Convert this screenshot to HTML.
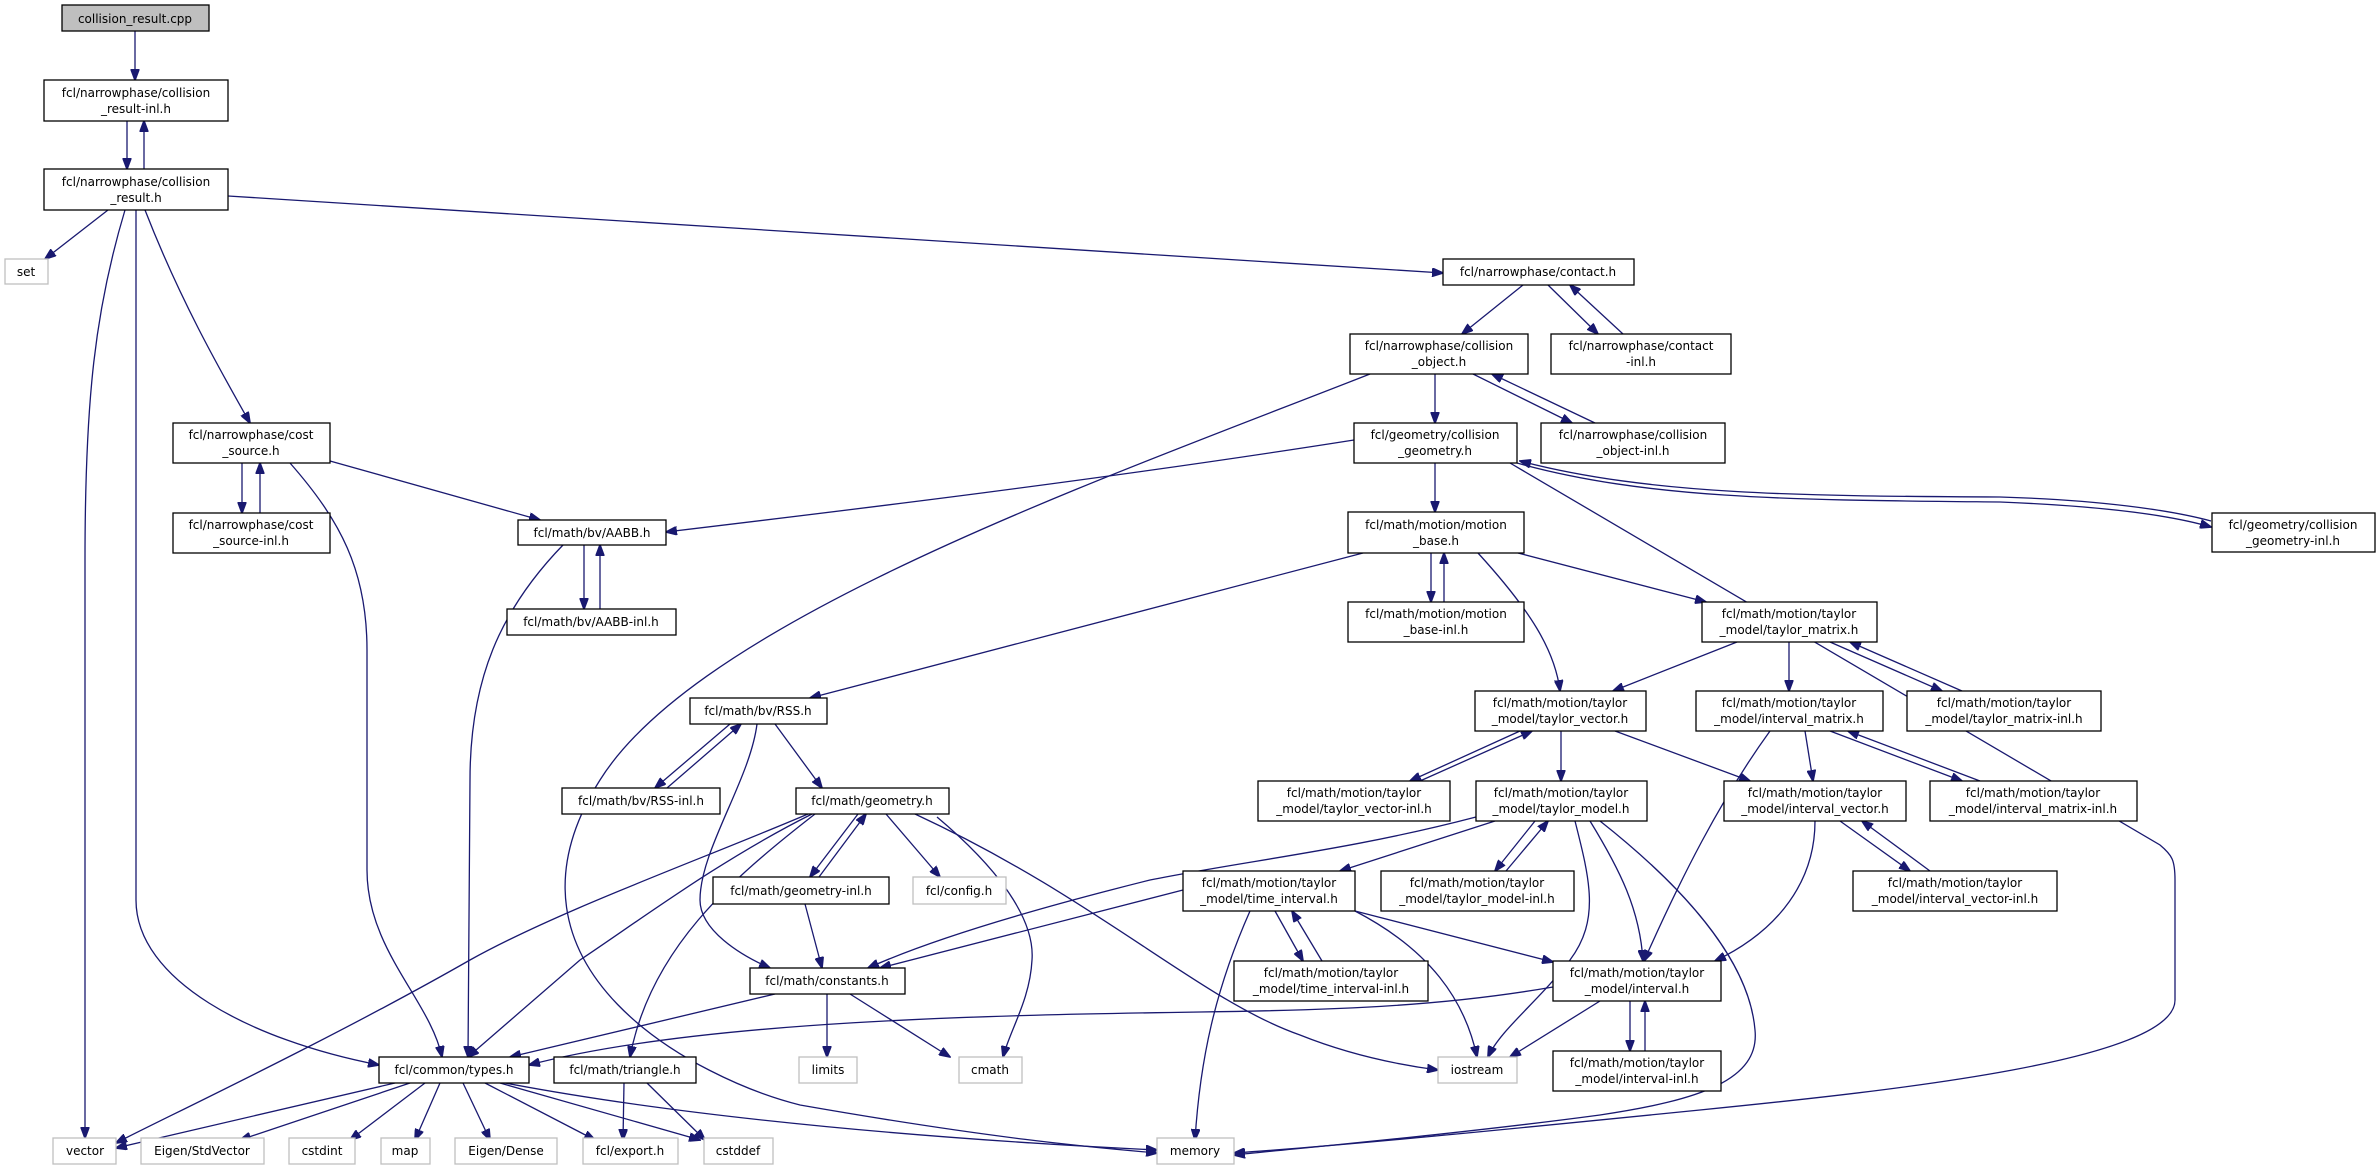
<!DOCTYPE html>
<html><head><meta charset="utf-8">
<style>
html,body{margin:0;padding:0;background:#fff;}
svg{display:block;}
text{font-family:"DejaVu Sans","Liberation Sans",sans-serif;font-size:12px;fill:#000;text-anchor:middle;}
.n{fill:#fff;stroke:#000;stroke-width:1.3;}
.g{fill:#fff;stroke:#bfbfbf;stroke-width:1.3;}
.e{fill:none;stroke:#191970;stroke-width:1.3;marker-end:url(#a);}
</style></head><body>
<svg width="2380" height="1169" viewBox="0 0 2380 1169" xmlns="http://www.w3.org/2000/svg">
<defs><marker id="a" markerWidth="12" markerHeight="9" refX="11" refY="4.5" orient="auto" markerUnits="userSpaceOnUse"><path d="M0,0 L12,4.5 L0,9z" fill="#191970" stroke="#191970"/></marker></defs>

<!-- edges -->
<path class="e" d="M135,31 L135,80"/>
<path class="e" d="M127,121 L127,169"/>
<path class="e" d="M144,169 L144,121"/>
<path class="e" d="M108,210 L45,259"/>
<path class="e" d="M125,210 C95,310 85,400 85,560 L85,1138"/>
<path class="e" d="M136,210 L136,900 C136,980 250,1040 379,1065"/>
<path class="e" d="M145,210 C180,300 220,370 250,423"/>
<path class="e" d="M228,196 L1443,273"/>
<path class="e" d="M1523,285 L1462,334"/>
<path class="e" d="M1548,285 L1598,334"/>
<path class="e" d="M1623,334 L1570,285"/>
<path class="e" d="M1435,374 L1435,423"/>
<path class="e" d="M1473,374 L1572,423"/>
<path class="e" d="M1595,423 L1492,374"/>
<path class="e" d="M1370,374 C1100,480 700,620 600,780 C480,970 700,1080 800,1105 C1000,1140 1100,1148 1157,1153"/>
<path class="e" d="M1354,440 C1100,480 850,510 666,532"/>
<path class="e" d="M1435,463 L1435,512"/>
<path class="e" d="M1517,463 C1650,500 1800,500 2000,502 C2100,506 2170,515 2211,527"/>
<path class="e" d="M2211,521 C2170,510 2100,500 2000,497 C1800,496 1650,495 1520,461"/>
<path class="e" d="M1510,463 L2160,845 C2172,855 2175,860 2175,880 L2175,1000 C2175,1060 1900,1090 1700,1110 C1500,1130 1350,1145 1234,1153"/>
<path class="e" d="M242,463 L242,513"/>
<path class="e" d="M260,513 L260,463"/>
<path class="e" d="M330,461 L540,520"/>
<path class="e" d="M290,463 C340,520 367,570 367,650 L367,870 C367,950 430,1000 442,1057"/>
<path class="e" d="M584,545 L584,609"/>
<path class="e" d="M600,609 L600,545"/>
<path class="e" d="M563,545 C500,610 470,680 470,780 L468,1057"/>
<path class="e" d="M1431,553 L1431,602"/>
<path class="e" d="M1444,602 L1444,553"/>
<path class="e" d="M1363,553 L810,698"/>
<path class="e" d="M1478,553 C1530,610 1555,650 1560,691"/>
<path class="e" d="M1518,553 L1706,602"/>
<path class="e" d="M1737,642 L1613,691"/>
<path class="e" d="M1789,642 L1789,691"/>
<path class="e" d="M1830,642 L1942,691"/>
<path class="e" d="M1962,691 L1850,642"/>
<path class="e" d="M1520,731 L1410,781"/>
<path class="e" d="M1420,781 L1532,731"/>
<path class="e" d="M1561,731 L1561,781"/>
<path class="e" d="M1615,731 L1750,781"/>
<path class="e" d="M1805,731 L1813,781"/>
<path class="e" d="M1770,731 C1720,800 1680,880 1644,961"/>
<path class="e" d="M1830,731 L1962,781"/>
<path class="e" d="M1980,781 L1848,731"/>
<path class="e" d="M730,724 L655,788"/>
<path class="e" d="M667,788 L741,724"/>
<path class="e" d="M775,724 L822,788"/>
<path class="e" d="M757,724 C750,780 700,850 700,900 C700,930 740,955 770,968"/>
<path class="e" d="M858,814 L810,877"/>
<path class="e" d="M819,877 L866,814"/>
<path class="e" d="M886,814 L940,877"/>
<path class="e" d="M808,814 C700,860 560,910 470,960 C330,1040 160,1120 116,1143"/>
<path class="e" d="M812,814 C720,860 640,920 580,960 L468,1057"/>
<path class="e" d="M815,814 C730,880 650,950 630,1057"/>
<path class="e" d="M937,817 C1000,870 1035,920 1032,960 C1030,1000 1010,1030 1003,1057"/>
<path class="e" d="M915,814 C1100,900 1200,1000 1300,1035 C1350,1055 1400,1065 1438,1070"/>
<path class="e" d="M805,904 L822,968"/>
<path class="e" d="M775,994 L510,1057"/>
<path class="e" d="M827,994 L827,1057"/>
<path class="e" d="M850,994 L950,1057"/>
<path class="e" d="M1183,890 L880,968"/>
<path class="e" d="M1250,911 C1215,990 1200,1060 1195,1140"/>
<path class="e" d="M1275,911 L1303,961"/>
<path class="e" d="M1322,961 L1292,911"/>
<path class="e" d="M1355,911 C1430,950 1465,1000 1477,1057"/>
<path class="e" d="M1355,911 L1553,962"/>
<path class="e" d="M1495,821 L1340,871"/>
<path class="e" d="M1535,821 L1495,871"/>
<path class="e" d="M1506,871 L1548,821"/>
<path class="e" d="M1476,817 C1350,850 1250,860 1150,880 C1030,910 930,940 868,968"/>
<path class="e" d="M1575,821 C1590,880 1600,920 1570,960 C1540,1000 1500,1030 1488,1057"/>
<path class="e" d="M1590,821 C1620,870 1640,910 1643,961"/>
<path class="e" d="M1600,821 C1700,900 1750,970 1755,1030 C1760,1080 1700,1100 1600,1115 C1450,1135 1300,1148 1234,1155"/>
<path class="e" d="M1840,821 L1910,871"/>
<path class="e" d="M1930,871 L1862,821"/>
<path class="e" d="M1815,821 C1815,880 1780,930 1715,961"/>
<path class="e" d="M1553,987 C1450,1005 1350,1010 1200,1012 C1000,1015 700,1020 529,1065"/>
<path class="e" d="M1600,1001 L1510,1057"/>
<path class="e" d="M1630,1001 L1630,1051"/>
<path class="e" d="M1645,1051 L1645,1001"/>
<path class="e" d="M624,1083 L623,1140"/>
<path class="e" d="M647,1083 L705,1140"/>
<path class="e" d="M395,1083 L116,1148"/>
<path class="e" d="M410,1083 L240,1140"/>
<path class="e" d="M425,1083 L350,1140"/>
<path class="e" d="M440,1083 L415,1140"/>
<path class="e" d="M463,1083 L490,1140"/>
<path class="e" d="M485,1083 L595,1140"/>
<path class="e" d="M500,1083 L700,1140"/>
<path class="e" d="M505,1083 C700,1120 950,1140 1157,1150"/>

<!-- nodes -->
<rect x="62" y="5" width="147" height="26" fill="#bfbfbf" stroke="#000" stroke-width="1.3"/><text x="135" y="23">collision_result.cpp</text>

<rect class="n" x="44" y="80" width="184" height="41"/><text x="136" y="97">fcl/narrowphase/collision</text><text x="136" y="113">_result-inl.h</text>
<rect class="n" x="44" y="169" width="184" height="41"/><text x="136" y="186">fcl/narrowphase/collision</text><text x="136" y="202">_result.h</text>
<rect class="g" x="5" y="259" width="43" height="25"/><text x="26" y="276">set</text>

<rect class="n" x="1443" y="259" width="191" height="26"/><text x="1538" y="276">fcl/narrowphase/contact.h</text>
<rect class="n" x="1350" y="334" width="178" height="40"/><text x="1439" y="350">fcl/narrowphase/collision</text><text x="1439" y="366">_object.h</text>
<rect class="n" x="1551" y="334" width="180" height="40"/><text x="1641" y="350">fcl/narrowphase/contact</text><text x="1641" y="366">-inl.h</text>
<rect class="n" x="1354" y="423" width="163" height="40"/><text x="1435" y="439">fcl/geometry/collision</text><text x="1435" y="455">_geometry.h</text>
<rect class="n" x="1541" y="423" width="184" height="40"/><text x="1633" y="439">fcl/narrowphase/collision</text><text x="1633" y="455">_object-inl.h</text>
<rect class="n" x="2212" y="513" width="163" height="39"/><text x="2293" y="529">fcl/geometry/collision</text><text x="2293" y="545">_geometry-inl.h</text>

<rect class="n" x="173" y="423" width="157" height="40"/><text x="251" y="439">fcl/narrowphase/cost</text><text x="251" y="455">_source.h</text>
<rect class="n" x="173" y="513" width="157" height="40"/><text x="251" y="529">fcl/narrowphase/cost</text><text x="251" y="545">_source-inl.h</text>
<rect class="n" x="518" y="520" width="148" height="25"/><text x="592" y="537">fcl/math/bv/AABB.h</text>
<rect class="n" x="507" y="609" width="169" height="26"/><text x="591" y="626">fcl/math/bv/AABB-inl.h</text>

<rect class="n" x="1348" y="512" width="176" height="41"/><text x="1436" y="529">fcl/math/motion/motion</text><text x="1436" y="545">_base.h</text>
<rect class="n" x="1348" y="602" width="176" height="40"/><text x="1436" y="618">fcl/math/motion/motion</text><text x="1436" y="634">_base-inl.h</text>
<rect class="n" x="1702" y="602" width="175" height="40"/><text x="1789" y="618">fcl/math/motion/taylor</text><text x="1789" y="634">_model/taylor_matrix.h</text>
<rect class="n" x="1475" y="691" width="171" height="40"/><text x="1560" y="707">fcl/math/motion/taylor</text><text x="1560" y="723">_model/taylor_vector.h</text>
<rect class="n" x="1696" y="691" width="187" height="40"/><text x="1789" y="707">fcl/math/motion/taylor</text><text x="1789" y="723">_model/interval_matrix.h</text>
<rect class="n" x="1907" y="691" width="194" height="40"/><text x="2004" y="707">fcl/math/motion/taylor</text><text x="2004" y="723">_model/taylor_matrix-inl.h</text>

<rect class="n" x="690" y="698" width="137" height="26"/><text x="758" y="715">fcl/math/bv/RSS.h</text>
<rect class="n" x="562" y="788" width="158" height="26"/><text x="641" y="805">fcl/math/bv/RSS-inl.h</text>
<rect class="n" x="796" y="788" width="153" height="26"/><text x="872" y="805">fcl/math/geometry.h</text>

<rect class="n" x="1258" y="781" width="192" height="40"/><text x="1354" y="797">fcl/math/motion/taylor</text><text x="1354" y="813">_model/taylor_vector-inl.h</text>
<rect class="n" x="1476" y="781" width="171" height="40"/><text x="1561" y="797">fcl/math/motion/taylor</text><text x="1561" y="813">_model/taylor_model.h</text>
<rect class="n" x="1724" y="781" width="182" height="40"/><text x="1815" y="797">fcl/math/motion/taylor</text><text x="1815" y="813">_model/interval_vector.h</text>
<rect class="n" x="1930" y="781" width="207" height="40"/><text x="2033" y="797">fcl/math/motion/taylor</text><text x="2033" y="813">_model/interval_matrix-inl.h</text>

<rect class="n" x="713" y="877" width="176" height="27"/><text x="801" y="895">fcl/math/geometry-inl.h</text>
<rect class="g" x="913" y="877" width="93" height="27"/><text x="959" y="895">fcl/config.h</text>
<rect class="n" x="1183" y="871" width="172" height="40"/><text x="1269" y="887">fcl/math/motion/taylor</text><text x="1269" y="903">_model/time_interval.h</text>
<rect class="n" x="1381" y="871" width="193" height="40"/><text x="1477" y="887">fcl/math/motion/taylor</text><text x="1477" y="903">_model/taylor_model-inl.h</text>
<rect class="n" x="1853" y="871" width="204" height="40"/><text x="1955" y="887">fcl/math/motion/taylor</text><text x="1955" y="903">_model/interval_vector-inl.h</text>

<rect class="n" x="750" y="968" width="155" height="26"/><text x="827" y="985">fcl/math/constants.h</text>
<rect class="n" x="1234" y="961" width="194" height="40"/><text x="1331" y="977">fcl/math/motion/taylor</text><text x="1331" y="993">_model/time_interval-inl.h</text>
<rect class="n" x="1553" y="961" width="168" height="40"/><text x="1637" y="977">fcl/math/motion/taylor</text><text x="1637" y="993">_model/interval.h</text>
<rect class="n" x="1553" y="1051" width="168" height="40"/><text x="1637" y="1067">fcl/math/motion/taylor</text><text x="1637" y="1083">_model/interval-inl.h</text>

<rect class="n" x="379" y="1057" width="150" height="26"/><text x="454" y="1074">fcl/common/types.h</text>
<rect class="n" x="554" y="1057" width="142" height="26"/><text x="625" y="1074">fcl/math/triangle.h</text>
<rect class="g" x="799" y="1057" width="58" height="26"/><text x="828" y="1074">limits</text>
<rect class="g" x="959" y="1057" width="63" height="26"/><text x="990" y="1074">cmath</text>
<rect class="g" x="1438" y="1057" width="79" height="26"/><text x="1477" y="1074">iostream</text>

<rect class="g" x="53" y="1138" width="63" height="26"/><text x="85" y="1155">vector</text>
<rect class="g" x="141" y="1138" width="123" height="26"/><text x="202" y="1155">Eigen/StdVector</text>
<rect class="g" x="289" y="1138" width="66" height="26"/><text x="322" y="1155">cstdint</text>
<rect class="g" x="381" y="1138" width="49" height="26"/><text x="405" y="1155">map</text>
<rect class="g" x="455" y="1138" width="102" height="26"/><text x="506" y="1155">Eigen/Dense</text>
<rect class="g" x="583" y="1138" width="95" height="26"/><text x="630" y="1155">fcl/export.h</text>
<rect class="g" x="704" y="1138" width="69" height="26"/><text x="738" y="1155">cstddef</text>
<rect class="g" x="1157" y="1138" width="77" height="26"/><text x="1195" y="1155">memory</text>
</svg>
</body></html>
